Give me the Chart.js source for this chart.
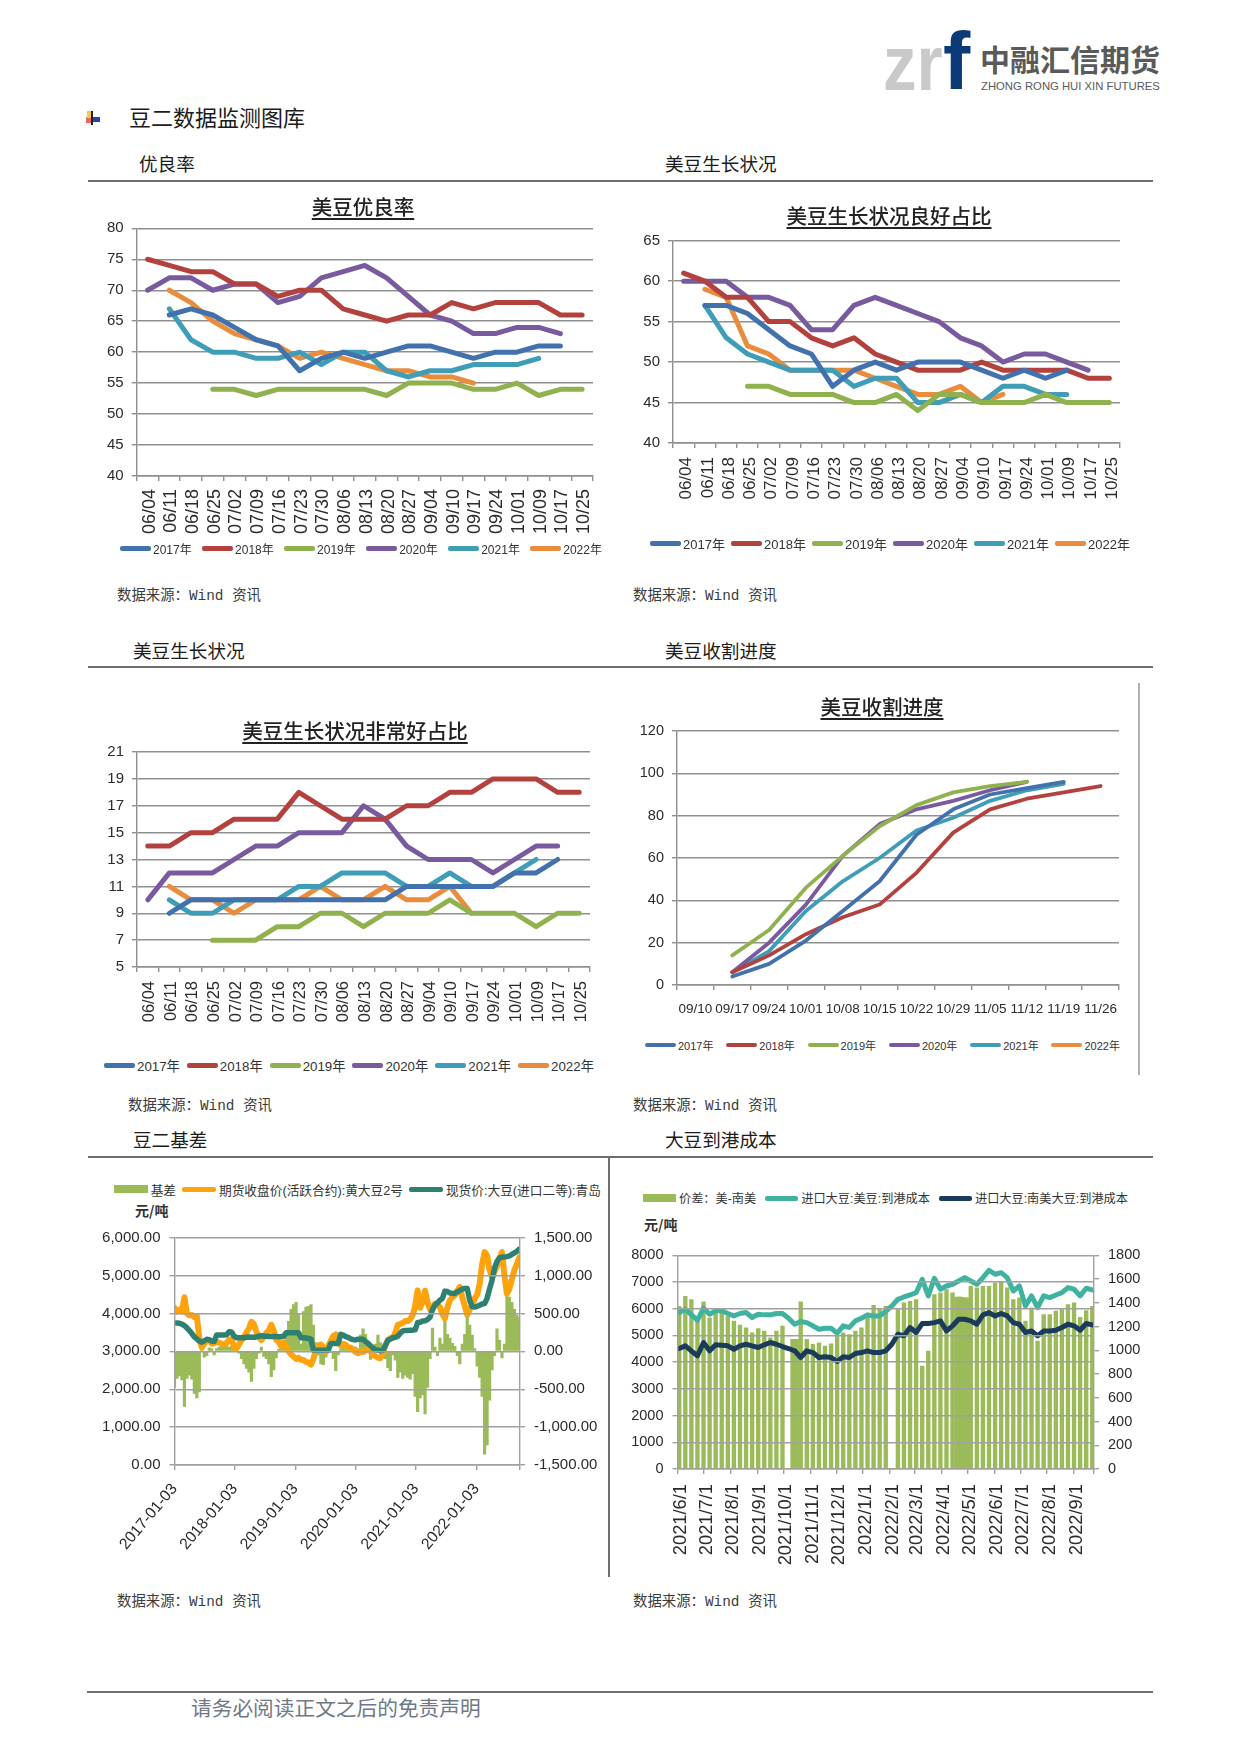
<!DOCTYPE html>
<html lang="zh-CN">
<head>
<meta charset="utf-8">
<title>豆二数据监测图库</title>
<script src="https://cdn.jsdelivr.net/npm/chart.js@4/dist/chart.umd.min.js"></script>
<style>
  html, body { margin: 0; padding: 0; background: #fff; }
  #page { position: relative; width: 1241px; height: 1755px; overflow: hidden; font-family: "Liberation Sans", "Noto Sans CJK SC", sans-serif; color: #222; }
  #page > * { position: absolute; }
  canvas { display: block; }
  .rule { background: #6e6e6e; height: 1.5px; left: 88px; width: 1065px; }
  .head { font-size: 18.6px; line-height: 24px; color: #1c1c1c; font-family: "Noto Sans CJK SC", sans-serif; white-space: nowrap; }
  .source { font-size: 14.4px; line-height: 20px; color: #3c3c3c; font-family: "Liberation Mono", "Noto Sans CJK SC", monospace; white-space: pre; }
  .title { font-size: 20.5px; line-height: 26px; font-weight: 500; color: #222; text-decoration: underline; text-underline-offset: 3px; font-family: "Noto Sans CJK SC", sans-serif; white-space: nowrap; transform: translate(-50%, -50%); }
  .unit { font-size: 14px; line-height: 18px; font-weight: 700; color: #333; font-family: "Noto Sans CJK SC", sans-serif; white-space: nowrap; }
  .legend { display: flex; justify-content: space-between; align-items: center; height: 20px; color: #333; white-space: nowrap; font-family: "Liberation Sans", "Noto Sans CJK SC", sans-serif; }
  .legend span.item { display: flex; align-items: center; gap: 2px; }
  .legend i { display: inline-block; }
  .logo { font-weight: 700; line-height: normal; transform-origin: left top; font-family: "Liberation Sans", sans-serif; }
</style>
</head>
<body>
<div id="page">
  <div class="logo" style="left:883px;top:18px;font-size:78px;color:#c9c9c9;transform:scaleX(.86);">zr</div>
  <div class="logo" style="left:943px;top:14px;font-size:82px;color:#0b3a78;">f</div>
  <div style="left:980px;top:38px;font-size:30px;line-height:40px;font-weight:700;color:#5a5a5a;font-family:'Noto Sans CJK SC';white-space:nowrap;">中融汇信期货</div>
  <div style="left:981px;top:78px;font-size:11.3px;line-height:16px;color:#5a5a5a;white-space:nowrap;">ZHONG RONG HUI XIN FUTURES</div>

  <div style="left:86px;top:117px;width:6px;height:6px;background:#e86a5a;"></div>
  <div style="left:87px;top:111px;width:5px;height:7px;background:#f6c84a;"></div>
  <div style="left:92px;top:117px;width:8px;height:5px;background:#2a3fb0;"></div>
  <div style="left:91px;top:111px;width:1.5px;height:14px;background:#222;"></div>

  <div class="head" style="left:129px;top:102px;font-size:22px;line-height:28px;">豆二数据监测图库</div>

  <div class="head" style="left:139px;top:151px;">优良率</div>
  <div class="head" style="left:665px;top:151px;">美豆生长状况</div>
  <div class="rule" style="top:180px;"></div>

  <div class="head" style="left:133px;top:638px;">美豆生长状况</div>
  <div class="head" style="left:665px;top:638px;">美豆收割进度</div>
  <div class="rule" style="top:666px;"></div>

  <div class="head" style="left:133px;top:1127px;">豆二基差</div>
  <div class="head" style="left:665px;top:1127px;">大豆到港成本</div>
  <div class="rule" style="top:1156px;"></div>

  <div style="left:1138px;top:683px;width:2px;height:392px;background:#b0b0b0;"></div>
  <div style="left:608px;top:1157px;width:1.5px;height:420px;background:#6e6e6e;"></div>

  <div class="source" style="left:117px;top:586px;">数据来源：Wind 资讯</div>
  <div class="source" style="left:633px;top:586px;">数据来源：Wind 资讯</div>
  <div class="source" style="left:128px;top:1096px;">数据来源：Wind 资讯</div>
  <div class="source" style="left:633px;top:1096px;">数据来源：Wind 资讯</div>
  <div class="source" style="left:117px;top:1592px;">数据来源：Wind 资讯</div>
  <div class="source" style="left:633px;top:1592px;">数据来源：Wind 资讯</div>

  <div class="unit" style="left:135px;top:1201px;">元/吨</div>
  <div class="unit" style="left:644px;top:1215px;">元/吨</div>

  <div class="rule" style="top:1691px;left:87px;width:1066px;height:2px;"></div>
  <div style="left:191px;top:1692px;font-size:20.7px;line-height:30px;color:#6f7986;font-family:'Noto Sans CJK SC';white-space:nowrap;">请务必阅读正文之后的免责声明</div>
</div>

<script>
const seasonNames = ['2017年', '2018年', '2019年', '2020年', '2021年', '2022年'];
const weekLabels = ['06/04', '06/11', '06/18', '06/25', '07/02', '07/09', '07/16', '07/23', '07/30', '08/06', '08/13', '08/20', '08/27', '09/04', '09/10', '09/17', '09/24', '10/01', '10/09', '10/17', '10/25'];
const harvestLabels = ['09/10', '09/17', '09/24', '10/01', '10/08', '10/15', '10/22', '10/29', '11/05', '11/12', '11/19', '11/26'];

// 美豆优良率
const rating2017 = [null, 66, 67, 66, 64, 62, 61, 57, 59, 60, 59, 60, 61, 61, 60, 59, 60, 60, 61, 61];
const rating2018 = [75, 74, 73, 73, 71, 71, 69, 70, 70, 67, 66, 65, 66, 66, 68, 67, 68, 68, 68, 66, 66];
const rating2019 = [null, null, null, 54, 54, 53, 54, 54, 54, 54, 54, 53, 55, 55, 55, 54, 54, 55, 53, 54, 54];
const rating2020 = [70, 72, 72, 70, 71, 71, 68, 69, 72, 73, 74, 72, 69, 66, 65, 63, 63, 64, 64, 63];
const rating2021 = [null, 67, 62, 60, 60, 59, 59, 60, 58, 60, 60, 57, 56, 57, 57, 58, 58, 58, 59];
const rating2022 = [null, 70, 68, 65, 63, 62, 61, 59, 60, 59, 58, 57, 57, 56, 56, 55];

// 美豆生长状况良好占比
const good2017 = [null, 57, 57, 56, 54, 52, 51, 47, 49, 50, 49, 50, 50, 50, 49, 48, 49, 48, 49];
const good2018 = [61, 60, 58, 58, 55, 55, 53, 52, 53, 51, 50, 49, 49, 49, 50, 49, 49, 49, 49, 48, 48];
const good2019 = [null, null, null, 47, 47, 46, 46, 46, 45, 45, 46, 44, 46, 46, 45, 45, 45, 46, 45, 45, 45];
const good2020 = [60, 60, 60, 58, 58, 57, 54, 54, 57, 58, 57, 56, 55, 53, 52, 50, 51, 51, 50, 49];
const good2021 = [null, 57, 53, 51, 50, 49, 49, 49, 47, 48, 48, 45, 45, 46, 45, 47, 47, 46, 46];
const good2022 = [null, 59, 58, 52, 51, 49, 49, 49, 49, 48, 47, 46, 46, 47, 45, 46];

// 美豆生长状况非常好占比
const excellent2017 = [null, 9, 10, 10, 10, 10, 10, 10, 10, 10, 10, 10, 11, 11, 11, 11, 11, 12, 12, 13];
const excellent2018 = [14, 14, 15, 15, 16, 16, 16, 18, 17, 16, 16, 16, 17, 17, 18, 18, 19, 19, 19, 18, 18];
const excellent2019 = [null, null, null, 7, 7, 7, 8, 8, 9, 9, 8, 9, 9, 9, 10, 9, 9, 9, 8, 9, 9];
const excellent2020 = [10, 12, 12, 12, 13, 14, 14, 15, 15, 15, 17, 16, 14, 13, 13, 13, 12, 13, 14, 14];
const excellent2021 = [null, 10, 9, 9, 10, 10, 10, 11, 11, 12, 12, 12, 11, 11, 12, 11, 11, 12, 13];
const excellent2022 = [null, 11, 10, 10, 9, 10, 10, 10, 11, 10, 10, 11, 10, 10, 11, 9];

// 美豆收割进度
const harvest2017 = [null, 4, 10, 21, 35, 49, 71, 83, 90, 93, 96];
const harvest2018 = [null, 6, 14, 24, 32, 38, 53, 72, 83, 88, 91, 94];
const harvest2019 = [null, 14, 26, 46, 61, 75, 85, 91, 94, 96];
const harvest2020 = [null, 6, 20, 38, 61, 76, 83, 87, 92, 96];
const harvest2021 = [null, 6, 16, 35, 49, 60, 73, 79, 87, 92, 95];
const harvest2022 = [];

// 豆二基差, one reading every 15 days from 2017-01-03
const basisValues = [
  -480, -360, -330, -380, -730, -360, -320, -370, -560, -620,
  -540, 30, -80, -60, 50, 40, -50, 40, 60, 70,
  80, 100, 60, 70, 30, 40, -30, -100, -170, -230,
  -280, -400, -230, -100, -30, 60, -70, -100, -170, -340,
  -250, -90, 30, 50, 100, 220, 400, 560, 620, 650,
  500, 100, 530, 590, 600, 620, 350, 120, -50, -170,
  -180, -80, 40, -20, -100, -260, -50, 30, 60, 30,
  20, 10, 30, 60, 40, 220, 300, 230, 90, -110,
  70, 100, 220, 120, -50, -100, -220, -260, -50, -120,
  -350, -280, -360, -320, -350, -370, -300, -600, -800, -620,
  -580, -830, -480, -100, 310, 60, -60, 180, 100, 420,
  230, 180, 110, 70, -60, -170, 100, 230, 480, 350,
  220, 40, -200, -350, -600, -1360, -1240, -650, -250, -60,
  300, 150, -90, 100, 730, 720, 650, 560, 480, 450
];
const futuresClose = [
  4150, 4050, 4100, 4050, 4430, 4000, 3950, 3960, 3900, 3930,
  3350, 3100, 3200, 3280, 3300, 3200, 3220, 3250, 3230, 3200,
  3180, 3220, 3300, 3320, 3120, 3080, 3180, 3300, 3370, 3500,
  3600, 3780, 3720, 3520, 3380, 3300, 3380, 3480, 3550, 3700,
  3550, 3300, 3250, 3130, 3230, 3130, 3000, 2920, 2860, 2800,
  2830, 2780, 2770, 2720, 2700, 2650, 2800, 3050, 3150, 3180,
  3100, 2980, 3150, 3280, 3400, 3450, 3250, 3150, 3200, 3180,
  3100, 3100, 3050, 2980, 2950, 3000, 2980, 3020, 3050, 3000,
  2900, 2870, 2830, 2820, 2950, 3150, 3300, 3350, 3350, 3500,
  3700, 3720, 3750, 3800, 3800, 3850, 3950, 4200, 4610, 4150,
  4300, 4600, 4300, 4100, 4150, 4260, 4220, 4170, 3980, 3870,
  4150, 4350, 4420, 4480, 4600, 4700, 4430, 4200, 3960, 4100,
  4220, 4400, 4500, 4780, 5300, 5620, 5530, 5150, 4950, 5100,
  5250, 5450, 5620, 5000, 4520, 4650, 4900, 5150, 5300, 5480
];
const spotPrice = [
  3750, 3750, 3740, 3720, 3680, 3620, 3550, 3470, 3380, 3330,
  3270, 3240, 3280, 3320, 3310, 3270, 3260, 3430, 3430, 3430,
  3430, 3440, 3520, 3510, 3400, 3360, 3360, 3360, 3360, 3370,
  3380, 3370, 3370, 3380, 3400, 3410, 3400, 3400, 3390, 3390,
  3390, 3390, 3385, 3385, 3400, 3490, 3490, 3490, 3490, 3490,
  3490, 3360, 3360, 3350, 3340, 3330, 3030, 3030, 3030, 3030,
  3030, 3030, 3030, 3210, 3210, 3210, 3210, 3450, 3430, 3390,
  3370, 3330, 3310, 3300, 3320, 3320, 3320, 3260, 3210, 3150,
  3090, 3040, 3030, 3010, 3030, 3160, 3290, 3320, 3360, 3370,
  3400, 3480, 3540, 3550, 3550, 3560, 3560, 3570, 3760, 3770,
  3800, 3810, 3840, 3900, 4100, 4220, 4280, 4350, 4400, 4590,
  4580, 4540, 4530, 4530, 4570, 4600, 4640, 4660, 4660, 4350,
  4180, 4170, 4190, 4220, 4250, 4260, 4400, 4650, 4880, 5200,
  5370, 5470, 5490, 5490, 5500, 5520, 5560, 5600, 5640, 5700
];
const basisTicks = ['2017-01-03', '2018-01-03', '2019-01-03', '2020-01-03', '2021-01-03', '2022-01-03'];
const basisAxisEnd = '2022-09-23';

// 大豆到港成本, one reading per week from 2021/6/3
const spreadValues = [
  1374, 1458, 1430, 1276, 1410, 1276, 1332, 1318, 1290, 1248,
  1214, 1192, 1150, 1186, 1164, 1108, 1164, 1206, null, 1094,
  1410, 1094, 1052, 1066, 1038, 1057, 1122, 1150, 1136, 1164,
  1192, 1298, 1382, 1354, 1374, null, 1346, 1402, 1416, 1430,
  869, 995, 1472, 1486, 1514, 1486, 1450, 1444, 1542, 1528,
  1542, 1542, 1570, 1584, 1528, 1430, 1444, 1248, 1360, 1080,
  1304, 1304, 1332, 1346, 1388, 1402, 1281, 1337, 1374
];
// weeks where the daily bars run together with no weekend gap
const spreadSolidWeeks = [
  null, null, null, null, null, null, null, null, null, null,
  null, null, null, null, null, null, null, null, null, 1094,
  null, null, null, null, null, null, null, null, null, null,
  null, null, null, null, null, null, null, null, null, null,
  null, null, null, null, null, null, 1450, 1444, null, null,
  null, null, null, null, null, null, null, null, null, null,
  null, null, null, null, null, null, null, null, null
];
const usCost = [
  5856, 5980, 5770, 5570, 6020, 5795, 5920, 5920, 5820, 5730,
  5820, 5860, 5670, 5795, 5770, 5770, 5820, 5820, 5645, 5420,
  5520, 5480, 5360, 5230, 5270, 5270, 5085, 5360, 5300, 5545,
  5645, 5770, 5730, 5730, 5895, 6105, 6355, 6440, 6515, 6600,
  7100, 6480, 7140, 6730, 6850, 6915, 7040, 7165, 7040, 6915,
  7165, 7440, 7290, 7350, 7165, 6665, 6855, 6105, 6480, 6040,
  6480, 6415, 6515, 6600, 6790, 6730, 6480, 6765, 6705
];
const southAmericaCost = [
  4510, 4610, 4420, 4240, 4735, 4425, 4650, 4635, 4610, 4485,
  4610, 4670, 4610, 4550, 4650, 4735, 4670, 4585, 4510, 4425,
  4175, 4425, 4360, 4175, 4200, 4175, 4025, 4200, 4175, 4325,
  4360, 4425, 4360, 4360, 4425, 4670, 5045, 4985, 5295, 5110,
  5445, 5445, 5480, 5545, 5170, 5360, 5605, 5605, 5545, 5420,
  5770, 5855, 5730, 5820, 5730, 5480, 5420, 5110, 5170, 4985,
  5170, 5170, 5195, 5295, 5420, 5360, 5195, 5445, 5395
];
const costTicks = ['2021/6/1', '2021/7/1', '2021/8/1', '2021/9/1', '2021/10/1', '2021/11/1', '2021/12/1', '2022/1/1', '2022/2/1', '2022/3/1', '2022/4/1', '2022/5/1', '2022/6/1', '2022/7/1', '2022/8/1', '2022/9/1'];
const costAxisEnd = '2022/9/24';

const seasonColors = ['#4272ae', '#b3423f', '#8fb14e', '#7a5a9e', '#3f9db8', '#e98c3d'];
const gridColor = '#8f8f8f';

Chart.defaults.font.family = '"Liberation Sans", "Noto Sans CJK SC", sans-serif';
Chart.defaults.color = '#2b2b2b';

const page = document.getElementById('page');

function dayOf(dateText) {
  const [y, m, d] = dateText.split(/[-\/]/).map(Number);
  return Date.UTC(y, m - 1, d) / 86400000;
}

// the sources report on a regular calendar, only the start date and the step differ
function dateGrid(start, stepDays, count) {
  return Array.from({ length: count }, (_, i) => dayOf(start) + i * stepDays);
}

function pairs(days, values) {
  return values.map((v, i) => ({ x: days[i], y: v }));
}

function addCanvas(plot, box) {
  const canvas = document.createElement('canvas');
  canvas.width = box.right - box.left;
  canvas.height = plot.bottom + box.axisHeight - box.top;
  canvas.style.left = box.left + 'px';
  canvas.style.top = box.top + 'px';
  page.appendChild(canvas);
  return canvas;
}

function addTitle(text, x, y) {
  const el = document.createElement('div');
  el.className = 'title';
  el.textContent = text;
  el.style.left = x + 'px';
  el.style.top = y + 'px';
  page.appendChild(el);
}

// legend is plain html so every entry can sit exactly where the reference has it
function addLegend(chart, pos) {
  const el = document.createElement('div');
  el.className = 'legend';
  el.style.left = pos.left + 'px';
  el.style.width = (pos.right - pos.left) + 'px';
  el.style.top = (pos.y - 10) + 'px';
  el.style.fontSize = pos.font + 'px';
  chart.data.datasets.filter(ds => !ds.noLegend).forEach(ds => {
    const item = document.createElement('span');
    item.className = 'item';
    const swatch = document.createElement('i');
    const isBar = (ds.type || chart.config.type) === 'bar';
    swatch.style.width = (pos.swatch || 31) + 'px';
    swatch.style.height = (isBar ? 8 : pos.lineHeight) + 'px';
    swatch.style.marginRight = (pos.gap || 0) + 'px';
    swatch.style.borderRadius = isBar ? '0' : '2px';
    swatch.style.background = isBar ? ds.backgroundColor : ds.borderColor;
    const label = document.createElement('span');
    label.textContent = ds.label;
    item.append(swatch, label);
    el.appendChild(item);
  });
  page.appendChild(el);
}

function seasonChart(cfg) {
  const { plot, box } = cfg;
  const canvas = addCanvas(plot, box);
  const chart = new Chart(canvas, {
    type: 'line',
    data: {
      labels: cfg.labels,
      datasets: cfg.series.map((values, i) => ({
        label: seasonNames[i],
        data: values,
        borderColor: seasonColors[i],
        backgroundColor: seasonColors[i],
        borderWidth: cfg.lineWidth,
        pointRadius: 0,
        tension: 0,
        borderCapStyle: 'round',
        borderJoinStyle: 'round'
      }))
    },
    options: {
      responsive: false,
      animation: false,
      layout: { padding: { top: plot.top - box.top, right: box.right - plot.right, left: 0, bottom: 0 } },
      plugins: { legend: { display: false }, title: { display: false }, tooltip: { enabled: false } },
      scales: {
        x: {
          offset: true,
          grid: { offset: true, drawOnChartArea: false, color: gridColor, lineWidth: 1.4, tickLength: 5 },
          border: { color: gridColor, width: 1.4 },
          afterFit: axis => { axis.height = box.axisHeight; },
          ticks: {
            autoSkip: false,
            font: { size: cfg.xFont },
            padding: cfg.xPad,
            labelOffset: cfg.xShift || 0,
            minRotation: cfg.xRotation,
            maxRotation: cfg.xRotation
          }
        },
        y: {
          min: cfg.yMin,
          max: cfg.yMax,
          grid: { color: gridColor, lineWidth: 1.4, tickLength: 5 },
          border: { color: gridColor, width: 1.4 },
          afterFit: axis => { axis.width = plot.left - box.left; },
          ticks: { stepSize: cfg.yStep, font: { size: cfg.yFont }, padding: 8 }
        }
      }
    }
  });
  addTitle(cfg.title, cfg.titlePos[0], cfg.titlePos[1]);
  addLegend(chart, cfg.legend);
  return chart;
}

function dateAxis(cfg, box) {
  const tickDays = cfg.tickDates.map(dayOf);
  const endDay = dayOf(cfg.axisEnd);
  return {
    type: 'linear',
    min: tickDays[0],
    max: endDay,
    offset: false,
    grid: { offset: false, drawOnChartArea: false, color: '#a0a0a0', lineWidth: 1.4, tickLength: 5 },
    border: { color: '#a0a0a0', width: 1.4 },
    afterFit: axis => { axis.height = box.axisHeight; },
    afterBuildTicks: axis => {
      axis.ticks = tickDays.concat(endDay).map(v => ({ value: v }));
    },
    ticks: {
      autoSkip: false,
      font: { size: cfg.xFont },
      padding: cfg.xPad,
      labelOffset: cfg.xShift || 0,
      minRotation: cfg.xRotation,
      maxRotation: cfg.xRotation,
      callback: (value, i) => cfg.tickDates[i] || ''
    }
  };
}

function valueAxis(position, range, font, plot, box, format) {
  const isLeft = position === 'left';
  return {
    position,
    min: range[0],
    max: range[1],
    // grid and border both above the bars, as in the reference
    grid: { drawOnChartArea: isLeft, z: 1, color: '#a0a0a0', lineWidth: 1.4, tickLength: 5 },
    border: { color: '#a0a0a0', width: 1.4, z: 1 },
    afterFit: axis => { axis.width = isLeft ? plot.left - box.left : box.right - plot.right; },
    ticks: { stepSize: range[2], font: { size: font }, padding: 9, callback: format }
  };
}

function dualAxisChart(cfg) {
  const { plot, box } = cfg;
  const canvas = addCanvas(plot, box);
  const chart = new Chart(canvas, {
    type: 'bar',
    data: { datasets: cfg.datasets },
    options: {
      responsive: false,
      animation: false,
      layout: { padding: { top: plot.top - box.top, left: 0, right: 0, bottom: 0 } },
      plugins: { legend: { display: false }, title: { display: false }, tooltip: { enabled: false } },
      scales: {
        x: dateAxis(cfg, box),
        y: valueAxis('left', cfg.left, cfg.yFont, plot, box, cfg.format),
        y2: valueAxis('right', cfg.right, cfg.yFont, plot, box, cfg.format)
      }
    }
  });
  addLegend(chart, cfg.legend);
  return chart;
}

function lineSeries(label, days, values, color, width, order) {
  return {
    type: 'line', label, data: pairs(days, values), yAxisID: 'y', order,
    borderColor: color, backgroundColor: color, borderWidth: width,
    pointRadius: 0, tension: 0, borderJoinStyle: 'round', borderCapStyle: 'round'
  };
}

function barSeries(label, days, values, share, extra) {
  return Object.assign({
    type: 'bar', label, data: pairs(days, values), yAxisID: 'y2', order: 3,
    backgroundColor: '#9bbb59', grouped: false, barPercentage: share, categoryPercentage: 1
  }, extra);
}

seasonChart({
  title: '美豆优良率', titlePos: [363, 206],
  plot: { left: 136.7, top: 228.3, right: 593, bottom: 476.5 },
  box: { left: 90, top: 198, right: 625, axisHeight: 64 },
  labels: weekLabels,
  series: [rating2017, rating2018, rating2019, rating2020, rating2021, rating2022],
  yMin: 40, yMax: 80, yStep: 5, yFont: 15, xFont: 18, xPad: 8, xShift: 2, xRotation: 90, lineWidth: 5,
  legend: { left: 120, right: 602, y: 548, font: 12, lineHeight: 5 }
});

seasonChart({
  title: '美豆生长状况良好占比', titlePos: [889, 215],
  plot: { left: 673, top: 240.7, right: 1120, bottom: 443 },
  box: { left: 625, top: 210, right: 1150, axisHeight: 64 },
  labels: weekLabels,
  series: [good2017, good2018, good2019, good2020, good2021, good2022],
  yMin: 40, yMax: 65, yStep: 5, yFont: 15, xFont: 17, xPad: 9, xShift: 3, xRotation: 90, lineWidth: 5,
  legend: { left: 650, right: 1130, y: 543, font: 13, lineHeight: 5 }
});

seasonChart({
  title: '美豆生长状况非常好占比', titlePos: [355, 730],
  plot: { left: 137, top: 752, right: 590, bottom: 967.5 },
  box: { left: 90, top: 722, right: 620, axisHeight: 64 },
  labels: weekLabels,
  series: [excellent2017, excellent2018, excellent2019, excellent2020, excellent2021, excellent2022],
  yMin: 5, yMax: 21, yStep: 2, yFont: 15, xFont: 16.5, xPad: 9, xShift: 2, xRotation: 90, lineWidth: 5,
  legend: { left: 104, right: 594, y: 1065, font: 13.3, lineHeight: 5 }
});

seasonChart({
  title: '美豆收割进度', titlePos: [882, 706],
  plot: { left: 677, top: 731, right: 1119, bottom: 985 },
  box: { left: 630, top: 701, right: 1150, axisHeight: 40 },
  labels: harvestLabels,
  series: [harvest2017, harvest2018, harvest2019, harvest2020, harvest2021, harvest2022],
  yMin: 0, yMax: 120, yStep: 20, yFont: 14.5, xFont: 13.5, xPad: 11, xRotation: 0, lineWidth: 3.8,
  legend: { left: 645, right: 1120, y: 1045, font: 11, lineHeight: 3.8 }
});

const basisDays = dateGrid('2017-01-03', 15, basisValues.length);
const money = v => v.toLocaleString('en-US', { minimumFractionDigits: 2, maximumFractionDigits: 2 });
dualAxisChart({
  plot: { left: 174.5, top: 1237.7, right: 520, bottom: 1465 },
  box: { left: 100, top: 1208, right: 600, axisHeight: 95 },
  tickDates: basisTicks, axisEnd: basisAxisEnd,
  xFont: 15.7, xPad: 10, xRotation: 50, yFont: 15,
  left: [0, 6000, 1000], right: [-1500, 1500, 500], format: money,
  datasets: [
    barSeries('基差', basisDays, basisValues, 1.3),
    lineSeries('期货收盘价(活跃合约):黄大豆2号', basisDays, futuresClose, '#ffa30d', 6, 2),
    lineSeries('现货价:大豆(进口二等):青岛', basisDays, spotPrice, '#2e8070', 5.5, 1)
  ],
  legend: { left: 113.7, right: 601, y: 1189, font: 12.7, lineHeight: 5, swatch: 34, gap: 1 }
});

const costDays = dateGrid('2021-06-03', 7, spreadValues.length);
dualAxisChart({
  plot: { left: 677.5, top: 1255.3, right: 1094, bottom: 1469.3 },
  box: { left: 625, top: 1226, right: 1145, axisHeight: 105 },
  tickDates: costTicks, axisEnd: costAxisEnd,
  xFont: 18.3, xPad: 10, xShift: 3, xRotation: 90, yFont: 14.5,
  left: [0, 8000, 1000], right: [0, 1800, 200], format: v => String(v),
  datasets: [
    barSeries('价差：美-南美', costDays, spreadValues, 0.72),
    barSeries('价差整周', costDays, spreadSolidWeeks, 1.4, { noLegend: true }),
    lineSeries('进口大豆:美豆:到港成本', costDays, usCost, '#3fb39f', 5, 2),
    lineSeries('进口大豆:南美大豆:到港成本', costDays, southAmericaCost, '#1b3b5a', 5, 1)
  ],
  legend: { left: 643, right: 1128, y: 1198, font: 12.2, lineHeight: 5, swatch: 33, gap: 1 }
});
</script>
</body>
</html>
